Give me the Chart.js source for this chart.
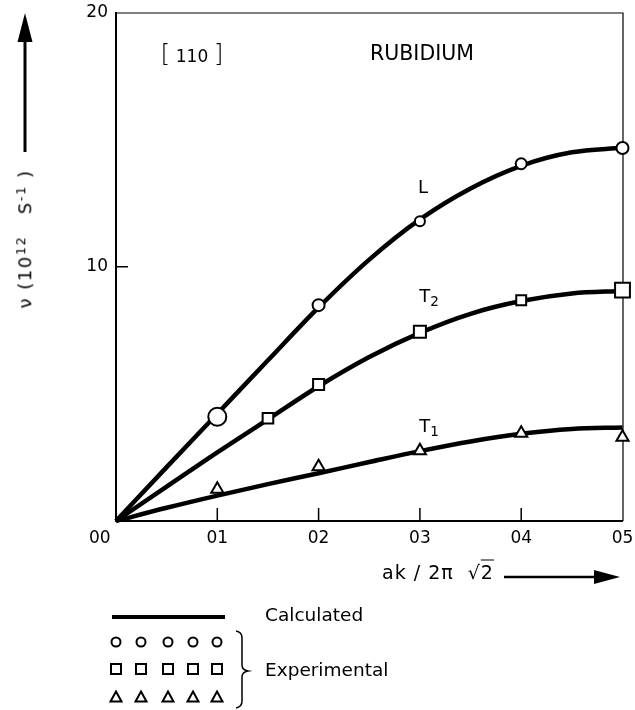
<!DOCTYPE html>
<html>
<head>
<meta charset="utf-8">
<script src="https://cdn.jsdelivr.net/npm/chart.js@4.4.1/dist/chart.umd.min.js"></script>
<style>
  body { margin: 0; background: #fff; }
  #wrap { position: relative; width: 635px; height: 710px; font-family: "DejaVu Sans", sans-serif; color: #000; }
  #chart { position: absolute; left: 0; top: 0; }
  .lbl { position: absolute; white-space: nowrap; line-height: 1; transform: translate(-50%, -50%); }
  .lft { transform: translate(0, -50%); }
  sup { font-size: 0.72em; vertical-align: 0.5em; }
  sub { font-size: 0.75em; vertical-align: -0.3em; }
</style>
</head>
<body>
<div id="wrap">
  <canvas id="chart" width="635" height="710"></canvas>

  <div class="lbl" style="left:192px;top:53px;font-size:17px"><span style="font-size:25px;font-weight:200">[</span>&nbsp;110&nbsp;<span style="font-size:25px;font-weight:200">]</span></div>
  <div class="lbl" style="left:422px;top:53px;font-size:20.5px">RUBIDIUM</div>
  <div class="lbl" style="left:423px;top:187px;font-size:18px">L</div>
  <div class="lbl" style="left:429px;top:298px;font-size:18px">T<sub>2</sub></div>
  <div class="lbl" style="left:429px;top:428px;font-size:18px">T<sub>1</sub></div>

  <div class="lbl" style="left:25px;top:239px;font-size:18px;letter-spacing:1.5px;transform:translate(-50%,-50%) rotate(-90deg)">ν (10<sup>12</sup>&nbsp;&nbsp;&nbsp;S<sup>-1</sup>&nbsp;)</div>
  <div class="lbl lft" style="left:382px;top:572px;font-size:19px;letter-spacing:1px">ak / 2π&nbsp;&nbsp;√<span style="text-decoration:overline">2</span></div>

  <div class="lbl lft" style="left:265px;top:615px;font-size:18.5px">Calculated</div>
  <div class="lbl lft" style="left:265px;top:670px;font-size:18.5px">Experimental</div>
</div>

<script>
// calculated dispersion curves, k in units of ak/2pi*sqrt2
const kCurve = [0, 0.05, 0.1, 0.15, 0.2, 0.25, 0.3, 0.35, 0.4, 0.45, 0.5];
const curveL  = [0, 2.12, 4.22, 6.32, 8.4, 10.28, 11.86, 13.08, 13.97, 14.5, 14.68];
const curveT2 = [0, 1.35, 2.7, 4.0, 5.3, 6.45, 7.4, 8.15, 8.65, 8.95, 9.05];
const curveT1 = [0, 0.52, 1.0, 1.45, 1.88, 2.32, 2.75, 3.13, 3.43, 3.62, 3.68];

// experimental points
const kExpL = [0.1, 0.2, 0.3, 0.4, 0.5];
const expL  = [4.1, 8.49, 11.79, 14.05, 14.67];
const kExpT2 = [0.15, 0.2, 0.3, 0.4, 0.5];
const expT2  = [4.04, 5.37, 7.44, 8.68, 9.08];
const kExpT1 = [0.1, 0.2, 0.3, 0.4, 0.5];
const expT1  = [1.25, 2.13, 2.76, 3.45, 3.29];

// axes
const xTickValues = [0, 0.1, 0.2, 0.3, 0.4, 0.5];
const xTickLabels = ['00', '01', '02', '03', '04', '05'];
const yTickValues = [10, 20];
const yTickLabels = ['10', '20'];
const xInnerTicks = [0.1, 0.2, 0.3, 0.4];
const yInnerTicks = [10];

const pts = (xs, ys) => xs.map((x, i) => ({ x: x, y: ys[i] }));
const tickFont = { family: 'DejaVu Sans', size: 17 };

function curve(ys) {
    return {
        data: pts(kCurve, ys),
        showLine: true,
        borderColor: '#000',
        borderWidth: 4.5,
        pointRadius: 0,
        cubicInterpolationMode: 'monotone',
        clip: false,
        order: 2
    };
}

function markers(xs, ys, style, radius) {
    return {
        data: pts(xs, ys),
        showLine: false,
        pointStyle: style,
        pointRadius: radius,
        pointBorderWidth: 2,
        pointBorderColor: '#000',
        pointBackgroundColor: '#fff',
        clip: false,
        order: 1
    };
}

function line(ctx, x1, y1, x2, y2) {
    ctx.beginPath();
    ctx.moveTo(x1, y1);
    ctx.lineTo(x2, y2);
    ctx.stroke();
}

// no extra room for overhanging tick labels: the plot box is fixed
function noPad(s) {
    s.paddingTop = 0;
    s.paddingBottom = 0;
    s.paddingLeft = 0;
    s.paddingRight = 0;
}

// frame, inner ticks, arrows and the legend key
const decor = {
    id: 'decor',
    beforeDatasetsDraw(chart) {
        const { ctx, chartArea: a, scales: { x, y } } = chart;
        ctx.save();
        ctx.strokeStyle = '#000';
        ctx.lineWidth = 1.2;
        ctx.beginPath();
        ctx.moveTo(a.left, a.top + 0.5);
        ctx.lineTo(a.right + 0.5, a.top + 0.5);
        ctx.lineTo(a.right + 0.5, a.bottom);
        ctx.stroke();
        ctx.lineWidth = 1.5;
        xInnerTicks.forEach(v => {
            const px = x.getPixelForValue(v);
            line(ctx, px, a.bottom, px, a.bottom - 13);
        });
        yInnerTicks.forEach(v => {
            const py = y.getPixelForValue(v);
            line(ctx, a.left, py, a.left + 12, py);
        });
        ctx.restore();
    },
    afterDraw(chart) {
        const ctx = chart.ctx;
        ctx.save();
        ctx.strokeStyle = '#000';
        ctx.fillStyle = '#000';

        // y arrow
        ctx.lineWidth = 3;
        line(ctx, 25, 152, 25, 38);
        ctx.beginPath();
        ctx.moveTo(25, 13); ctx.lineTo(32.5, 42); ctx.lineTo(17.5, 42); ctx.closePath();
        ctx.fill();

        // x arrow
        ctx.lineWidth = 2.5;
        line(ctx, 504, 577, 598, 577);
        ctx.beginPath();
        ctx.moveTo(620, 577); ctx.lineTo(594, 570); ctx.lineTo(594, 584); ctx.closePath();
        ctx.fill();

        // key
        ctx.lineWidth = 4;
        line(ctx, 112, 617, 225, 617);
        const xs = [116, 141, 168, 193, 217];
        ctx.lineWidth = 2;
        xs.forEach(px => {
            ctx.beginPath();
            ctx.arc(px, 642, 4.5, 0, Math.PI * 2);
            ctx.stroke();
            ctx.strokeRect(px - 5, 664, 10, 10);
            ctx.beginPath();
            ctx.moveTo(px, 691.5); ctx.lineTo(px + 5.5, 701.5); ctx.lineTo(px - 5.5, 701.5); ctx.closePath();
            ctx.stroke();
        });

        // brace
        ctx.lineWidth = 1.5;
        ctx.beginPath();
        ctx.moveTo(236, 631);
        ctx.quadraticCurveTo(242, 632, 242, 638);
        ctx.lineTo(242, 665);
        ctx.quadraticCurveTo(242, 670, 248, 671);
        ctx.quadraticCurveTo(242, 672, 242, 677);
        ctx.lineTo(242, 701);
        ctx.quadraticCurveTo(242, 707, 236, 708);
        ctx.stroke();
        ctx.restore();
    }
};

new Chart(document.getElementById('chart'), {
    type: 'scatter',
    data: {
        datasets: [
            markers(kExpL, expL, 'circle', [9, 6, 5, 5.5, 6]),
            markers(kExpT2, expT2, 'rect', [7.5, 7.8, 8.5, 7, 10.5]),
            markers(kExpT1, expT1, 'triangle', 7),
            curve(curveL),
            curve(curveT2),
            curve(curveT1)
        ]
    },
    options: {
        responsive: false,
        animation: false,
        devicePixelRatio: 1,
        layout: { padding: { top: 11, right: 11, left: 0, bottom: 0 } },
        plugins: { legend: { display: false }, tooltip: { enabled: false } },
        scales: {
            x: {
                type: 'linear',
                min: 0,
                max: 0.5,
                afterBuildTicks: s => { s.ticks = xTickValues.map(v => ({ value: v })); },
                afterFit: s => { s.height = 189; noPad(s); },
                grid: { display: false, drawTicks: false },
                border: { display: true, width: 2, color: '#000' },
                ticks: {
                    autoSkip: false,
                    maxRotation: 0,
                    padding: 7,
                    color: '#000',
                    font: tickFont,
                    callback: (v, i) => i === 0 ? xTickLabels[i] + '      ' : xTickLabels[i]
                }
            },
            y: {
                type: 'linear',
                min: 0,
                max: 20,
                afterBuildTicks: s => { s.ticks = yTickValues.map(v => ({ value: v })); },
                afterFit: s => { s.width = 116; noPad(s); },
                grid: { display: false, drawTicks: false },
                border: { display: true, width: 2, color: '#000' },
                ticks: {
                    padding: 8,
                    color: '#000',
                    font: tickFont,
                    callback: (v, i) => yTickLabels[i]
                }
            }
        }
    },
    plugins: [decor]
});
</script>
</body>
</html>
